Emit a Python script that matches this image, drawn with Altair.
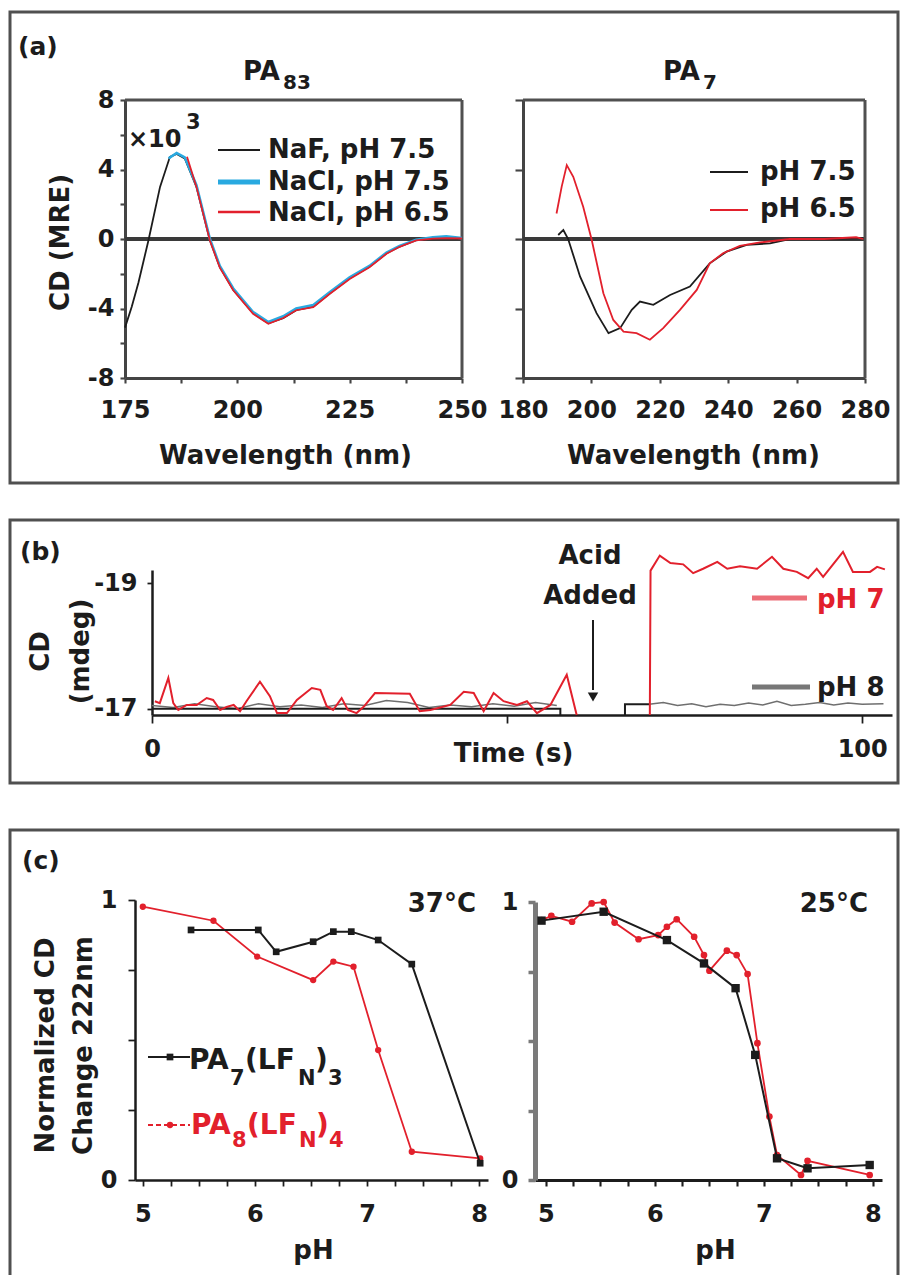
import altair as alt
import pandas as pd

FONT = "DejaVu Sans"
W, H = 901, 1275
INK = "#1c1c1c"
AXG = "#444444"
RED = "#e2202c"
BLUE = "#29a9e0"
GRAY = "#6f6f6f"

# ---------------- (a) PA83 ----------------
A83_XDOM = [175, 250]
A83_YDOM = [-8, 8]
A83_XTICKS = [175, 187.5, 200, 212.5, 225, 237.5, 250]
A83_YTICKS = [-8, -6, -4, -2, 0, 2, 4, 6, 8]
A83_NAF_WL = [175, 176.5, 178, 180.2, 182.8, 185, 186.5, 188.3, 190.9, 193.9, 196.1, 199.1, 203.5,
              206.9, 210.2, 213.1, 216.9, 220.6, 225, 229.4, 233.2, 236.1, 239.8, 243.5, 246.5, 250]
A83_NAF_CD = [-5.1, -3.9, -2.5, -0.1, 3.0, 4.73, 4.9, 4.64, 3.0, -0.06, -1.6, -2.93, -4.27,
              -4.85, -4.56, -4.1, -3.9, -3.12, -2.26, -1.6, -0.82, -0.44, -0.06, 0.04, 0.08, 0.02]
A83_NACL75_WL = [184.7, 186.5, 188.3, 190.9, 193.9, 196.1, 199.1, 203.5, 206.9, 210.2, 213.1, 216.9,
                 220.6, 225, 229.4, 233.2, 236.1, 239.8, 243.5, 246.5, 250]
A83_NACL75_CD = [4.64, 4.95, 4.7, 3.1, 0.0, -1.55, -2.85, -4.2, -4.78, -4.45, -4.0, -3.8,
                 -3.05, -2.2, -1.55, -0.78, -0.4, -0.05, 0.1, 0.15, 0.05]
A83_NACL65_WL = [188.8, 190.9, 193.9, 196.1, 199.1, 203.5, 206.9, 210.2, 213.1, 216.9, 220.6, 225,
                 229.4, 233.2, 236.1, 239.8, 243.5, 246.5, 250]
A83_NACL65_CD = [4.73, 3.0, -0.1, -1.65, -2.95, -4.3, -4.88, -4.55, -4.1, -3.92, -3.15, -2.3,
                 -1.62, -0.85, -0.45, -0.08, 0.02, 0.05, 0.03]
A83_LABELS = ["NaF, pH 7.5", "NaCl, pH 7.5", "NaCl, pH 6.5"]

# ---------------- (a) PA7 ----------------
A7_XDOM = [180, 280]
A7_XTICKS = [180, 200, 220, 240, 260, 280]
A7_YTICKS = [-8, -4, 0, 4, 8]
A7_75_WL = [190.3, 191.8, 193.2, 196.7, 201.5, 205.0, 208.4, 211.8, 214.2, 218.1, 223.0, 228.8,
            234.6, 239.5, 245.4, 252.2, 258.0, 267.8, 279.5]
A7_75_CD = [0.23, 0.52, 0.0, -2.17, -4.27, -5.42, -5.13, -4.08, -3.6, -3.79, -3.22, -2.74,
            -1.4, -0.73, -0.34, -0.25, 0.0, 0.0, 0.05]
A7_65_WL = [189.8, 191.3, 192.8, 194.7, 197.6, 200.1, 203.5, 206.4, 209.4, 213.2, 217.1, 221.0,
            225.9, 230.8, 234.6, 238.5, 243.4, 249.3, 258.0, 268.0, 277.4, 279.5]
A7_65_CD = [1.47, 3.0, 4.25, 3.58, 1.86, -0.06, -3.12, -4.66, -5.33, -5.42, -5.8, -5.13,
            -4.08, -2.93, -1.4, -0.82, -0.4, -0.2, 0.0, 0.0, 0.1, 0.0]
A7_LABELS = ["pH 7.5", "pH 6.5"]

# ---------------- (b) time course ----------------
B_XDOM = [0, 104.2]
B_YDOM = [-19.21, -16.9]
B_XTICKS = [0, 50, 100]
B_YTICKS = [-19, -17]
B_RED_PRE_T = [0.4, 1.1, 2.3, 3.0, 3.7, 4.9, 6.3, 7.7, 8.6, 9.6, 10.5, 11.5, 12.4, 13.3, 15.2,
               16.6, 17.6, 19.0, 20.4, 22.5, 23.7, 24.6, 25.5, 26.7, 27.6, 28.8, 29.8, 31.4,
               36.3, 37.7, 39.2, 42.0, 43.9, 45.3, 46.7, 48.1, 49.5, 51.4, 52.8, 54.2, 56.1,
               58.4, 59.8]
B_RED_PRE_V = [-17.12, -17.09, -17.49, -17.09, -16.98, -17.06, -17.06, -17.17, -17.14, -16.98,
               -17.03, -17.06, -16.96, -17.12, -17.43, -17.2, -16.93, -16.93, -17.14, -17.33,
               -17.3, -17.04, -16.98, -17.17, -16.98, -16.93, -17.03, -17.25, -17.24, -16.96,
               -16.98, -17.06, -17.27, -17.25, -16.96, -17.25, -17.12, -17.06, -17.12, -16.93,
               -17.06, -17.54, -16.9]
B_RED_POST_T = [70.1, 70.2, 71.5, 73.0, 74.8, 76.2, 77.6, 79.6, 81.0, 82.8, 85.2, 87.3, 88.9,
                90.8, 92.4, 93.6, 94.5, 97.3, 98.7, 101.1, 102.1, 103.2]
B_RED_POST_V = [-16.9, -19.2, -19.44, -19.32, -19.3, -19.16, -19.23, -19.34, -19.23, -19.27,
                -19.23, -19.42, -19.23, -19.18, -19.08, -19.23, -19.1, -19.5, -19.18, -19.18,
                -19.26, -19.22]
B_GRAY_PRE_T = [0, 3, 6, 9, 12, 15, 18, 21, 24, 27, 30, 33, 36, 39, 42, 45, 48, 51, 54, 57]
B_GRAY_PRE_V = [-17.05, -17.02, -17.08, -17.03, -17.0, -17.08, -17.03, -17.06, -17.02, -17.08,
                -17.05, -17.13, -17.1, -17.02, -17.06, -17.03, -17.08, -17.04, -17.1, -17.05]
B_GRAY_POST_T = [70, 72, 74, 76, 78, 80, 82, 84, 86, 88, 90, 92, 94, 96, 98, 100, 103]
B_GRAY_POST_V = [-17.07, -17.1, -17.05, -17.08, -17.03, -17.07, -17.05, -17.09, -17.06, -17.12,
                 -17.05, -17.07, -17.1, -17.06, -17.09, -17.07, -17.08]
B_STEP_PRE_T = [0, 57.5, 57.5]
B_STEP_PRE_V = [-17.0, -17.0, -16.9]
B_STEP_POST_T = [66.6, 66.6, 70.1]
B_STEP_POST_V = [-16.9, -17.07, -17.07]
B_LABELS = ["pH 7", "pH 8"]

# ---------------- (c) pH titrations ----------------
C_XTICKS = [5, 5.25, 5.5, 5.75, 6, 6.25, 6.5, 6.75, 7, 7.25, 7.5, 7.75, 8]
C_YTICKS = [0, 0.25, 0.5, 0.75, 1]
C37_BLK_PH = [5.43, 6.03, 6.19, 6.52, 6.70, 6.86, 7.10, 7.40, 8.01]
C37_BLK_V = [0.893, 0.893, 0.815, 0.851, 0.887, 0.887, 0.857, 0.771, 0.06]
C37_RED_PH = [5.0, 5.63, 6.02, 6.52, 6.70, 6.88, 7.10, 7.40, 8.01]
C37_RED_V = [0.976, 0.926, 0.798, 0.714, 0.78, 0.762, 0.464, 0.101, 0.077]
C25_BLK_PH = [4.96, 5.53, 6.11, 6.45, 6.74, 6.92, 7.12, 7.40, 7.97]
C25_BLK_V = [0.933, 0.965, 0.863, 0.779, 0.69, 0.45, 0.078, 0.042, 0.054]
C25_RED_PH = [4.96, 5.05, 5.24, 5.42, 5.53, 5.63, 5.85, 6.03, 6.11, 6.20, 6.36, 6.45, 6.50,
              6.66, 6.75, 6.85, 6.94, 7.05, 7.12, 7.34, 7.40, 7.97]
C25_RED_V = [0.935, 0.95, 0.929, 0.995, 1.0, 0.926, 0.866, 0.881, 0.911, 0.938, 0.875, 0.809,
             0.753, 0.825, 0.809, 0.741, 0.492, 0.228, 0.09, 0.018, 0.069, 0.018]


def df(xs, ys):
    return pd.DataFrame({"x": xs, "y": ys, "i": list(range(len(xs)))})


def sc(dom, rng):
    return alt.Scale(domain=dom, range=rng, nice=False, zero=False)


def common(color, width, tick):
    return dict(tickSize=tick, tickColor=color, tickWidth=max(1.5, width * 0.7),
                domainColor=color, domainWidth=width, grid=False,
                labelFont=FONT, labelFontSize=24, labelFontWeight="bold", labelColor=INK,
                labelOverlap=False, titleFont=FONT, titleFontSize=26, titleFontWeight="bold",
                titleColor=INK, titleBaseline="middle")


def ax_bottom(at_y, values, show, tick, title, tx, ty, color, width, pad):
    kw = common(color, width, tick)
    kw.update(orient="bottom", offset=at_y - H, values=values, labelPadding=pad,
              labelFlush=False, title=title, titleX=tx, titleY=ty)
    if show:
        kw["labelExpr"] = f"({show}) ? '' + datum.value : ''"
    else:
        kw["labels"] = False
    return alt.Axis(**kw)


def ax_left(at_x, values, show, tick, title, tx, ty, color, width, pad, lh=30):
    # tx is the absolute x of the first title line
    kw = common(color, width, tick)
    kw.update(orient="left", offset=-at_x, values=values, labelPadding=pad,
              labelFlush=False, title=title, titleX=tx - at_x, titleY=ty,
              titleLineHeight=lh)
    if show:
        kw["labelExpr"] = f"({show}) ? '' + datum.value : ''"
    else:
        kw["labels"] = False
    return alt.Axis(**kw)


def data_line(d, xd, yd, color, width, dash=None):
    mk = dict(color=color, strokeWidth=width)
    if dash:
        mk["strokeDash"] = dash
    return alt.Chart(d).mark_line(**mk).encode(x=xd, y=yd, order=alt.Order("i:Q"))


def data_points(d, xd, yd, color, shape, size):
    return alt.Chart(d).mark_point(shape=shape, filled=True, size=size, color=color,
                                   opacity=1).encode(x=xd, y=yd)


def hrule(xs, x2s, ys, xd, yd, color, width):
    d = pd.DataFrame({"x": xs, "x2": x2s, "y": ys})
    return alt.Chart(d).mark_rule(color=color, strokeWidth=width).encode(
        x=xd, x2=alt.X2("x2"), y=yd)


def vrule(xs, ys, y2s, xd, yd, color, width):
    d = pd.DataFrame({"x": xs, "y": ys, "y2": y2s})
    return alt.Chart(d).mark_rule(color=color, strokeWidth=width).encode(
        x=xd, y=yd, y2=alt.Y2("y2"))


# ---------- decorations (pixel-placed text / legend keys / frames) ----------
def txt(s, x, y, size=26, align="left", color=INK, baseline="alphabetic"):
    return alt.Chart(pd.DataFrame({"t": [s]})).mark_text(
        font=FONT, fontSize=size, fontWeight="bold", align=align, baseline=baseline,
        color=color).encode(x=alt.value(x), y=alt.value(y), text="t:N")


def key(x1, x2, y, color, width, dash=None):
    mk = dict(color=color, strokeWidth=width)
    if dash:
        mk["strokeDash"] = dash
    return alt.Chart(pd.DataFrame({"k": [0]})).mark_rule(**mk).encode(
        x=alt.value(x1), x2=alt.value(x2), y=alt.value(y))


def keypt(x, y, color, shape, size):
    return alt.Chart(pd.DataFrame({"k": [0]})).mark_point(
        shape=shape, filled=True, size=size, color=color, opacity=1).encode(
        x=alt.value(x), y=alt.value(y))


def frame(x1, x2, y1, y2):
    return alt.Chart(pd.DataFrame({"k": [0]})).mark_rect(
        fillOpacity=0, stroke="#505050", strokeWidth=3).encode(
        x=alt.value(x1), x2=alt.value(x2), y=alt.value(y1), y2=alt.value(y2))


# ---------------- panel (a) left ----------------
xa1 = alt.X("x:Q", scale=sc(A83_XDOM, [125, 462]),
            axis=ax_bottom(378, A83_XTICKS, "datum.value % 25 == 0", 5, "Wavelength (nm)",
                           285, 77, AXG, 3, 15))
ya1 = alt.Y("y:Q", scale=sc(A83_YDOM, [378, 100]),
            axis=ax_left(125, A83_YTICKS, "datum.value % 4 == 0", 5, "CD (MRE)", 60, 242,
                         AXG, 3, 6))
panel_a1 = alt.layer(
    hrule([A83_XDOM[0]], [A83_XDOM[1]], [0], xa1, ya1, "#3a3a3a", 4),
    hrule([A83_XDOM[0]], [A83_XDOM[1]], [A83_YDOM[1]], xa1, ya1, "#505050", 3),
    vrule([A83_XDOM[1]], [A83_YDOM[0]], [A83_YDOM[1]], xa1, ya1, "#505050", 3),
    data_line(df(A83_NAF_WL, A83_NAF_CD), xa1, ya1, INK, 1.8),
    data_line(df(A83_NACL75_WL, A83_NACL75_CD), xa1, ya1, BLUE, 2.6),
    data_line(df(A83_NACL65_WL, A83_NACL65_CD), xa1, ya1, RED, 1.8),
)

# ---------------- panel (a) right ----------------
xa2 = alt.X("x:Q", scale=sc(A7_XDOM, [523, 865]),
            axis=ax_bottom(378, A7_XTICKS, "true", 5, "Wavelength (nm)", 693, 77, AXG, 3, 15))
ya2 = alt.Y("y:Q", scale=sc(A83_YDOM, [378, 100]),
            axis=ax_left(523, A7_YTICKS, "", 8, "", 480, 242, AXG, 3, 6))
panel_a2 = alt.layer(
    hrule([A7_XDOM[0]], [A7_XDOM[1]], [0], xa2, ya2, "#3a3a3a", 4),
    hrule([A7_XDOM[0]], [A7_XDOM[1]], [A83_YDOM[1]], xa2, ya2, "#505050", 3),
    vrule([A7_XDOM[1]], [A83_YDOM[0]], [A83_YDOM[1]], xa2, ya2, "#505050", 3),
    data_line(df(A7_75_WL, A7_75_CD), xa2, ya2, INK, 1.8),
    data_line(df(A7_65_WL, A7_65_CD), xa2, ya2, RED, 1.8),
)

# ---------------- panel (b) ----------------
xb = alt.X("x:Q", scale=sc(B_XDOM, [152, 892]),
           axis=ax_bottom(715, B_XTICKS, "datum.value != 50", 8, "Time (s)", 513, 38, INK,
                          2.5, 14))
yb = alt.Y("y:Q", scale=sc(B_YDOM, [570, 715]),
           axis=ax_left(152, B_YTICKS, "true", 5, ["CD", "(mdeg)"], 40, 651, INK, 2.5, 10,
                        lh=40))
panel_b = alt.layer(
    data_line(df(B_GRAY_PRE_T, B_GRAY_PRE_V), xb, yb, GRAY, 1.5),
    data_line(df(B_GRAY_POST_T, B_GRAY_POST_V), xb, yb, GRAY, 1.5),
    data_line(df(B_STEP_PRE_T, B_STEP_PRE_V), xb, yb, INK, 2),
    data_line(df(B_STEP_POST_T, B_STEP_POST_V), xb, yb, INK, 2),
    data_line(df(B_RED_PRE_T, B_RED_PRE_V), xb, yb, RED, 2),
    data_line(df(B_RED_POST_T, B_RED_POST_V), xb, yb, RED, 2),
)

# ---------------- panel (c) left ----------------
xc1 = alt.X("x:Q", scale=sc([4.93, 8.08], [135, 488]),
            axis=ax_bottom(1180, C_XTICKS, "datum.value % 1 == 0", 6, "pH", 313, 70, INK,
                           2.5, 16))
yc1 = alt.Y("y:Q", scale=sc([0, 1], [1180, 900]),
            axis=ax_left(135, C_YTICKS, "datum.value % 1 == 0", 7,
                         ["Normalized CD", "Change 222nm"], 45, 1045, INK, 2.5, 11, lh=38))
panel_c1 = alt.layer(
    data_line(df(C37_RED_PH, C37_RED_V), xc1, yc1, RED, 1.8),
    data_points(df(C37_RED_PH, C37_RED_V), xc1, yc1, RED, "circle", 40),
    data_line(df(C37_BLK_PH, C37_BLK_V), xc1, yc1, INK, 2),
    data_points(df(C37_BLK_PH, C37_BLK_V), xc1, yc1, INK, "square", 45),
)

# ---------------- panel (c) right ----------------
xc2 = alt.X("x:Q", scale=sc([4.9, 8.083], [535, 882]),
            axis=ax_bottom(1180, C_XTICKS, "datum.value % 1 == 0", 6, "pH", 715, 70, INK,
                           3, 16))
yc2 = alt.Y("y:Q", scale=sc([0, 1], [1180, 902]),
            axis=ax_left(535, C_YTICKS, "datum.value % 1 == 0", 7, "", 480, 1045, "#7a7a7a",
                         5, 10))
panel_c2 = alt.layer(
    data_line(df(C25_RED_PH, C25_RED_V), xc2, yc2, RED, 1.8),
    data_points(df(C25_RED_PH, C25_RED_V), xc2, yc2, RED, "circle", 45),
    data_line(df(C25_BLK_PH, C25_BLK_V), xc2, yc2, INK, 2),
    data_points(df(C25_BLK_PH, C25_BLK_V), xc2, yc2, INK, "square", 70),
)

# ---------------- decorations ----------------
deco = [
    frame(10, 898, 12, 483), frame(10, 898, 520, 783), frame(10, 898, 830, 1290),
    txt("(a)", 18, 55, 25), txt("(b)", 20, 560, 25), txt("(c)", 22, 869, 25),
    # titles
    txt("PA", 243, 80, 26), txt("83", 283, 89, 20),
    txt("PA", 663, 80, 26), txt("7", 703, 89, 20),
    txt("\u00d710", 128, 147, 24), txt("3", 186, 129, 21),
    # legend (a) left
    key(218, 260, 150, INK, 2), txt(A83_LABELS[0], 268, 158),
    key(218, 260, 182, BLUE, 5), txt(A83_LABELS[1], 268, 190),
    key(218, 260, 212, RED, 2.5), txt(A83_LABELS[2], 268, 221),
    # legend (a) right
    key(710, 748, 172, INK, 2), txt(A7_LABELS[0], 760, 180),
    key(710, 748, 210, RED, 2), txt(A7_LABELS[1], 760, 217),
    # panel (b) annotations + legend
    txt("Acid", 590, 564, 26, "center"), txt("Added", 590, 604, 26, "center"),
    alt.Chart(pd.DataFrame({"k": [0]})).mark_rule(color=INK, strokeWidth=2).encode(
        x=alt.value(593), y=alt.value(620), y2=alt.value(690)),
    keypt(593, 697, INK, "triangle-down", 110),
    key(752, 807, 598, "#ec6f79", 5), txt(B_LABELS[0], 817, 608, 26, color=RED),
    key(752, 810, 687, "#777777", 5), txt(B_LABELS[1], 817, 696, 26),
    # panel (c) texts + legend
    txt("37\u00b0C", 476, 912, 26, "right"), txt("25\u00b0C", 868, 912, 26, "right"),
    key(148, 190, 1057, INK, 2), keypt(170, 1057, INK, "square", 45),
    txt("PA", 189, 1069, 28), txt("7", 230, 1085, 21), txt("(LF", 245, 1069, 28),
    txt("N", 298, 1085, 21), txt(")", 315, 1069, 28), txt("3", 328, 1085, 21),
    key(148, 190, 1125, RED, 2, [5, 3]), keypt(170, 1125, RED, "circle", 40),
    txt("PA", 191, 1134, 28, color=RED), txt("8", 232, 1147, 21, color=RED),
    txt("(LF", 247, 1134, 28, color=RED), txt("N", 299, 1147, 21, color=RED),
    txt(")", 316, 1134, 28, color=RED), txt("4", 329, 1147, 21, color=RED),
]

chart = alt.layer(panel_a1, panel_a2, panel_b, panel_c1, panel_c2, *deco).resolve_scale(
    x="independent", y="independent").resolve_axis(x="independent", y="independent").properties(
    width=W, height=H, autosize=alt.AutoSizeParams(type="none"), padding=0,
    background="white").configure_view(strokeWidth=0)

chart.save("out.html", embed_options={"renderer": "svg", "actions": False})
